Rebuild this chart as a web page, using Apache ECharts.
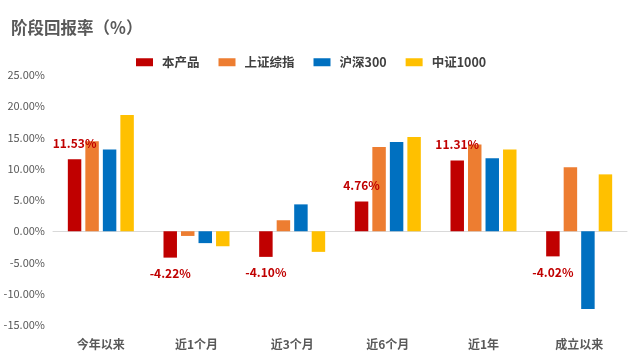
<!DOCTYPE html>
<html><head><meta charset="utf-8">
<script src="https://cdn.jsdelivr.net/npm/echarts@6/dist/echarts.min.js"></script>
<style>html,body{margin:0;padding:0;background:#fff}#c{width:640px;height:361px}</style>
</head><body><div id="c"></div>
<script>
var categories = ['今年以来','近1个月','近3个月','近6个月','近1年','成立以来'];
var seriesNames = ['本产品','上证综指','沪深300','中证1000'];
var product = [11.53, -4.22, -4.10, 4.76, 11.31, -4.02];
var shIndex = [14.4, -0.75, 1.76, 13.5, 13.9, 10.25];
var hs300 = [13.1, -1.9, 4.3, 14.3, 11.7, -12.45];
var zz1000 = [18.6, -2.4, -3.3, 15.1, 13.1, 9.1];
var colors = ['#C00000','#ED7D31','#0070C0','#FFC000'];
var font = '"Noto Sans CJK SC", sans-serif';

var chart = echarts.init(document.getElementById('c'));
var values = [product, shIndex, hs300, zz1000];
var series = values.map(function(v, i){
  var s = {
    name: seriesNames[i], type: 'bar', data: v,
    barGap: '30%', barCategoryGap: '31%',
    itemStyle: {color: colors[i]}
  };
  if (i === 0) {
    s.data = v.map(function(x){
      return {value: x, label: {show: true, position: x >= 0 ? 'top' : 'bottom', distance: 10,
        formatter: function(p){ return p.value.toFixed(2) + '%'; },
        color: '#C00000', fontWeight: 'bold', fontSize: 12, fontFamily: font}};
    });
  }
  return s;
});
chart.setOption({
  animation: false,
  title: {text: '阶段回报率（%）', left: 6, top: 14,
    textStyle: {color: '#595959', fontSize: 16.5, fontWeight: 'bold', fontFamily: font}},
  legend: {data: seriesNames, top: 51, left: 131, itemWidth: 17, itemHeight: 8, itemGap: 19,
    icon: 'rect',
    textStyle: {color: '#404040', fontSize: 12.5, fontWeight: 'bold', fontFamily: font, padding: [0,0,0,4]}},
  grid: {left: 53, right: 13, top: 75, bottom: 36},
  xAxis: [
    {type: 'category', data: categories, position: 'bottom',
     axisLine: {show: false, onZero: false}, axisTick: {show: false},
     axisLabel: {color: '#595959', fontSize: 12, fontWeight: 'bold', margin: 13, fontFamily: font}},
    {type: 'category', data: categories, position: 'bottom',
     axisLine: {show: true, onZero: true, lineStyle: {color: '#D9D9D9', width: 1}},
     axisTick: {show: false}, axisLabel: {show: false}}
  ],
  yAxis: {type: 'value', min: -15, max: 25, interval: 5,
    axisLine: {show: false}, axisTick: {show: false}, splitLine: {show: false},
    axisLabel: {color: '#595959', fontSize: 11, margin: 8, fontFamily: font,
      formatter: function(v){ return v.toFixed(2) + '%'; }}},
  series: series
});
</script></body></html>
